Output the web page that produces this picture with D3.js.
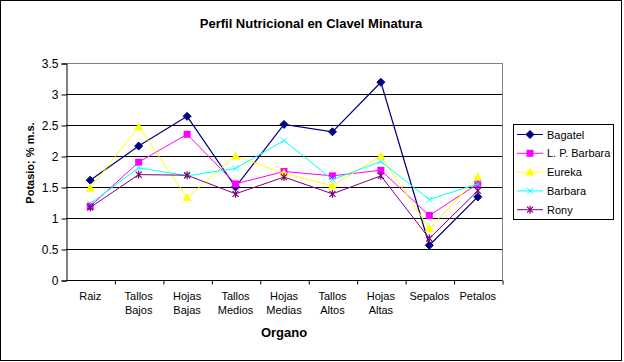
<!DOCTYPE html>
<html><head><meta charset="utf-8">
<script src="https://cdn.jsdelivr.net/npm/d3@7"></script>
<style>body{margin:0;background:#fff}svg{display:block}text{font-family:Arial,"Liberation Sans",sans-serif}</style>
</head><body><svg id="c" width="624" height="362"></svg>
<script>
const categories = [["Raiz"],["Tallos","Bajos"],["Hojas","Bajas"],["Tallos","Medios"],["Hojas","Medias"],["Tallos","Altos"],["Hojas","Altas"],["Sepalos"],["Petalos"]];
const seriesNames = ["Bagatel","L. P. Barbara","Eureka","Barbara","Rony"];
const bagatel   = [1.61, 2.16, 2.64, 1.50, 2.51, 2.39, 3.19, 0.56, 1.34];
const lpBarbara = [1.19, 1.90, 2.35, 1.55, 1.75, 1.68, 1.77, 1.04, 1.55];
const eureka    = [1.48, 2.47, 1.33, 2.00, 1.72, 1.52, 2.00, 0.83, 1.66];
const barbara   = [1.23, 1.81, 1.68, 1.80, 2.25, 1.62, 1.91, 1.30, 1.55];
const rony      = [1.17, 1.70, 1.69, 1.39, 1.66, 1.39, 1.68, 0.67, 1.44];
const yTicks = [0, 0.5, 1, 1.5, 2, 2.5, 3, 3.5];
const title = "Perfil Nutricional en Clavel Minatura";
const xTitle = "Organo";
const yTitle = "Potasio; % m.s.";

const series = [
  {name: seriesNames[0], values: bagatel,   color: "#000080", marker: "diamond"},
  {name: seriesNames[1], values: lpBarbara, color: "#FF00FF", marker: "square"},
  {name: seriesNames[2], values: eureka,    color: "#FFFF00", marker: "triangle"},
  {name: seriesNames[3], values: barbara,   color: "#00FFFF", marker: "x"},
  {name: seriesNames[4], values: rony,      color: "#800080", marker: "star"}
];

const svg = d3.select("#c");
svg.append("rect").attr("x",0.5).attr("y",0.5).attr("width",621).attr("height",360)
  .attr("fill","#fff").attr("stroke","#000");

const L = 66, R = 502, T = 63, B = 280;
const x = d3.scaleBand().domain(d3.range(categories.length)).range([L, R]);
const y = d3.scaleLinear().domain([0, 3.5]).range([B, T]);
const cx = i => x(i) + x.bandwidth()/2;

// gridlines
svg.append("g").selectAll("line").data(yTicks.filter(t => t > 0)).join("line")
  .attr("x1", L).attr("x2", R)
  .attr("y1", d => Math.round(y(d)) + 0.5).attr("y2", d => Math.round(y(d)) + 0.5)
  .attr("stroke", d => d === 3.5 ? "#808080" : "#000").attr("stroke-width", 1);
svg.append("line").attr("x1", R + 0.5).attr("x2", R + 0.5).attr("y1", T).attr("y2", B)
  .attr("stroke", "#808080");

// y axis
const yAxis = d3.axisLeft(y).tickValues(yTicks).tickSize(5).tickPadding(3).tickFormat(d3.format("~g"));
const gy = svg.append("g").attr("transform", `translate(${L + 0.5},0.5)`).call(yAxis);
gy.select(".domain").attr("stroke", "#000");
gy.selectAll("text").attr("font-size", 12).attr("fill", "#000");

// x axis
const xb = d3.scaleLinear().domain([0, categories.length]).range([L, R]);
const gx = svg.append("g").attr("transform", `translate(0.5,${B + 0.5})`)
  .call(d3.axisBottom(xb).ticks(categories.length).tickValues(d3.range(1, categories.length + 1)).tickSize(4).tickFormat(""));
gx.select(".domain").attr("stroke", "#000").attr("d", `M${L},0H${R}`);
const labels = svg.append("g");
categories.forEach((c, i) => {
  const t = labels.append("text").attr("x", cx(i)).attr("y", B + 20).attr("text-anchor", "middle")
    .attr("font-size", 11);
  c.forEach((line, j) => t.append("tspan").attr("x", cx(i)).attr("dy", j === 0 ? 0 : 14).text(line));
});

// titles
svg.append("text").attr("x", 311).attr("y", 28).attr("text-anchor", "middle")
  .attr("font-size", 13).attr("font-weight", "bold").text(title);
svg.append("text").attr("x", 284).attr("y", 337).attr("text-anchor", "middle")
  .attr("font-size", 13).attr("font-weight", "bold").text(xTitle);
svg.append("text").attr("transform", "translate(34,163) rotate(-90)").attr("text-anchor", "middle")
  .attr("font-size", 11).attr("font-weight", "bold").text(yTitle);

function drawMarker(g, type, color) {
  if (type === "diamond") g.append("path").attr("d", "M0,-4L4,0L0,4L-4,0Z").attr("fill", color).attr("stroke", color);
  else if (type === "square") g.append("rect").attr("x", -3.5).attr("y", -3.5).attr("width", 7).attr("height", 7).attr("fill", color);
  else if (type === "triangle") g.append("path").attr("d", "M0,-4.5L4.5,3.5L-4.5,3.5Z").attr("fill", color);
  else if (type === "x") g.append("path").attr("d", "M-3,-3L3,3M-3,3L3,-3").attr("stroke", color).attr("stroke-width", 1);
  else if (type === "star") g.append("path").attr("d", "M-3,-3L3,3M-3,3L3,-3M0,-4V4").attr("stroke", color).attr("stroke-width", 1.2);
}

const line = d3.line().x((d, i) => cx(i)).y(d => y(d));
series.forEach(s => {
  const g = svg.append("g");
  g.append("path").attr("d", line(s.values)).attr("fill", "none").attr("stroke", s.color).attr("stroke-width", s.name === "Bagatel" ? 1.2 : 1);
  s.values.forEach((v, i) => {
    const m = g.append("g").attr("transform", `translate(${cx(i)},${y(v)})`);
    drawMarker(m, s.marker, s.color);
  });
});

// legend
const lg = svg.append("g");
lg.append("rect").attr("x", 513.5).attr("y", 124.5).attr("width", 100).attr("height", 95)
  .attr("fill", "#fff").attr("stroke", "#000");
series.forEach((s, i) => {
  const yy = 134.5 + i * 18.8;
  lg.append("line").attr("x1", 517).attr("x2", 543).attr("y1", yy).attr("y2", yy).attr("stroke", s.color);
  const m = lg.append("g").attr("transform", `translate(530,${yy})`);
  drawMarker(m, s.marker, s.color);
  lg.append("text").attr("x", 547).attr("y", yy + 4).attr("font-size", 11).text(s.name);
});
</script></body></html>
